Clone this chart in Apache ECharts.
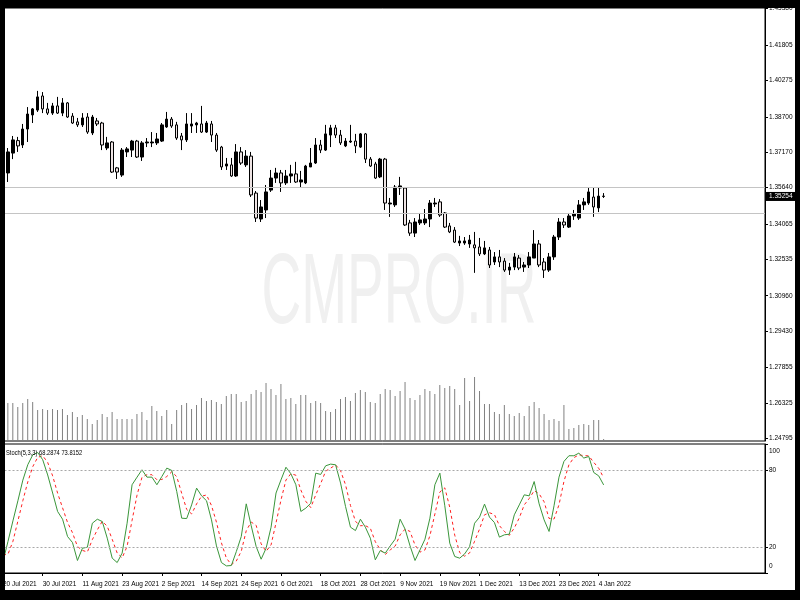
<!DOCTYPE html>
<html><head><meta charset="utf-8">
<script src="https://cdn.jsdelivr.net/npm/echarts@6/dist/echarts.min.js"></script>
<style>html,body{margin:0;padding:0;background:#000;}#c{width:800px;height:600px;}</style>
</head><body><div id="c"></div>
<script>
// ---- trading days (daily bars, weekends skipped) ----
const tradingDays = [
  ['Jul 2021', [20,21,22,23,26,27,28,29,30]],
  ['Aug 2021', [2,3,4,5,6,9,10,11,12,13,16,17,18,19,20,23,24,25,26,27,30,31]],
  ['Sep 2021', [1,2,3,6,7,8,9,10,13,14,15,16,17,20,21,22,23,24,27,28,29,30]],
  ['Oct 2021', [1,4,5,6,7,8,11,12,13,14,15,18,19,20,21,22,25,26,27,28,29]],
  ['Nov 2021', [1,2,3,4,5,8,9,10,11,12,15,16,17,18,19,22,23,24,25,26,29,30]],
  ['Dec 2021', [1,2,3,6,7,8,9,10,13,14,15,16,17,20,21,22,23,24,27,28,29,30,31]],
  ['Jan 2022', [3,4,5]]
];
const dates = [];
tradingDays.forEach(([m, ds]) => ds.forEach(d => dates.push(d + ' ' + m)));
const futureSlots = 32; // empty space right of the last bar (chart shift)

const openP = [1.3620,1.3627,1.3713,1.3767,1.3748,1.3817,1.3878,1.3899,1.3960,1.3904,1.3886,1.3917,1.3886,1.3930,1.3873,1.3848,1.3835,1.3869,1.3800,1.3852,
1.3843,1.3735,1.3761,1.3649,1.3618,1.3718,1.3726,1.3765,1.3696,1.3757,1.3757,1.3757,1.3765,1.3826,1.3860,1.3835,1.3787,1.3770,1.3830,1.3835,
1.3839,1.3804,1.3839,1.3791,1.3739,1.3657,1.3662,1.3614,1.3718,1.3662,1.3700,1.3540,1.3428,1.3467,1.3553,1.3605,1.3627,1.3584,1.3614,1.3623,
1.3588,1.3584,1.3653,1.3670,1.3748,1.3726,1.3791,1.3822,1.3791,1.3744,1.3761,1.3765,1.3739,1.3796,1.3687,1.3666,1.3610,1.3687,1.3493,1.3489,
1.3562,1.3562,1.3411,1.3367,1.3411,1.3411,1.3428,1.3493,1.3502,1.3454,1.3398,1.3380,1.3324,1.3324,1.3320,1.3316,1.3307,1.3277,1.3294,1.3242,
1.3264,1.3246,1.3207,1.3220,1.3259,1.3220,1.3229,1.3259,1.3320,1.3242,1.3207,1.3264,1.3350,1.3415,1.3393,1.3441,1.3432,1.3489,1.3497,1.3523,
1.3476,1.3527];
const closeP = [1.3627,1.3718,1.3770,1.3744,1.3817,1.3882,1.3904,1.3956,1.3904,1.3886,1.3917,1.3886,1.3930,1.3869,1.3843,1.3835,1.3865,1.3804,1.3869,1.3839,
1.3748,1.3757,1.3631,1.3631,1.3726,1.3731,1.3765,1.3696,1.3757,1.3761,1.3761,1.3774,1.3835,1.3860,1.3830,1.3778,1.3770,1.3839,1.3839,1.3843,
1.3804,1.3843,1.3791,1.3726,1.3653,1.3666,1.3614,1.3718,1.3670,1.3700,1.3532,1.3432,1.3480,1.3545,1.3605,1.3627,1.3584,1.3614,1.3623,1.3588,
1.3597,1.3657,1.3670,1.3748,1.3726,1.3796,1.3822,1.3791,1.3757,1.3765,1.3765,1.3744,1.3796,1.3687,1.3657,1.3605,1.3687,1.3497,1.3497,1.3566,
1.3571,1.3402,1.3367,1.3415,1.3424,1.3428,1.3497,1.3497,1.3445,1.3393,1.3372,1.3328,1.3333,1.3333,1.3337,1.3303,1.3277,1.3303,1.3229,1.3264,
1.3242,1.3207,1.3220,1.3264,1.3216,1.3229,1.3264,1.3320,1.3229,1.3207,1.3264,1.3350,1.3415,1.3402,1.3441,1.3450,1.3489,1.3502,1.3545,1.3480,
1.3527,1.35254];
const lowP = [1.3572,1.3588,1.3687,1.3718,1.3735,1.3761,1.3843,1.3891,1.3886,1.3878,1.3878,1.3882,1.3873,1.3865,1.3839,1.3826,1.3826,1.3796,1.3791,1.3830,
1.3726,1.3726,1.3627,1.3601,1.3610,1.3696,1.3696,1.3692,1.3679,1.3739,1.3739,1.3748,1.3761,1.3822,1.3822,1.3770,1.3726,1.3761,1.3800,1.3800,
1.3800,1.3800,1.3761,1.3718,1.3640,1.3640,1.3610,1.3610,1.3662,1.3653,1.3523,1.3415,1.3415,1.3432,1.3545,1.3584,1.3545,1.3575,1.3584,1.3584,
1.3566,1.3579,1.3653,1.3666,1.3713,1.3722,1.3739,1.3778,1.3748,1.3739,1.3757,1.3713,1.3735,1.3670,1.3653,1.3601,1.3605,1.3467,1.3437,1.3480,
1.3532,1.3398,1.3355,1.3350,1.3402,1.3402,1.3393,1.3480,1.3437,1.3389,1.3367,1.3324,1.3311,1.3316,1.3303,1.3195,1.3268,1.3272,1.3216,1.3229,
1.3220,1.3199,1.3186,1.3207,1.3207,1.3199,1.3216,1.3259,1.3220,1.3173,1.3199,1.3251,1.3337,1.3389,1.3389,1.3424,1.3424,1.3467,1.3489,1.3437,
1.3458,1.3519];
const highP = [1.3670,1.3735,1.3787,1.3783,1.3839,1.3912,1.3908,1.3982,1.3977,1.3930,1.3930,1.3956,1.3951,1.3934,1.3886,1.3865,1.3886,1.3886,1.3878,1.3865,
1.3848,1.3783,1.3765,1.3653,1.3735,1.3739,1.3770,1.3770,1.3765,1.3778,1.3804,1.3800,1.3843,1.3891,1.3869,1.3848,1.3800,1.3886,1.3886,1.3848,
1.3917,1.3852,1.3852,1.3800,1.3744,1.3692,1.3692,1.3752,1.3739,1.3726,1.3718,1.3549,1.3510,1.3575,1.3640,1.3649,1.3640,1.3640,1.3662,1.3675,
1.3636,1.3662,1.3735,1.3778,1.3770,1.3835,1.3835,1.3835,1.3813,1.3778,1.3835,1.3796,1.3800,1.3800,1.3696,1.3675,1.3692,1.3692,1.3519,1.3575,
1.3610,1.3566,1.3424,1.3432,1.3454,1.3471,1.3510,1.3519,1.3514,1.3458,1.3411,1.3393,1.3355,1.3350,1.3359,1.3372,1.3346,1.3333,1.3307,1.3285,
1.3294,1.3259,1.3238,1.3281,1.3272,1.3242,1.3285,1.3380,1.3337,1.3259,1.3281,1.3359,1.3432,1.3432,1.3454,1.3467,1.3510,1.3519,1.3562,1.3562,
1.3562,1.3540];
// tick volume (thousands)
const volume = [72,76,76,68,76,84,78,62,64,62,64,62,64,52,58,48,52,44,34,42,
54,48,58,44,44,44,44,54,58,42,70,60,50,62,34,62,72,76,64,72,
86,80,82,78,74,90,94,94,78,80,94,102,98,116,104,92,114,84,86,74,
92,92,76,80,76,60,58,64,84,88,80,96,102,98,78,76,94,104,102,90,
100,118,86,82,92,104,100,94,112,106,110,104,72,126,80,128,100,74,74,58,
54,72,54,50,56,50,70,78,66,54,42,44,40,72,24,26,32,34,32,42,
42,4];
const stochK = [9,24.4,40.4,56,72,84,91.6,93.4,87.8,76,62,47.7,41.7,28.3,23.6,9.7,19.2,20,38.6,41.7,
39.9,27,11.5,8.1,15.4,38.6,68.4,74.3,80,74.3,74.3,68.4,74.8,81.3,79.5,63.2,42.5,42.2,52.8,65.8,
59.8,56,41.2,21,8.1,5.5,5.8,16.6,28.3,53.6,36.6,20.5,10.7,19.2,35.5,62,72.2,82,76.9,68.4,
47.7,50.3,54.1,77.4,76.4,83.1,84.4,83.9,69.7,51.6,35.5,32.9,41.7,35.5,27,10.2,17.4,15.4,21,26.2,
41.7,34,21,9.7,17.9,26.2,42.5,68.4,77.4,52.1,23.1,12.8,11.5,14.8,20.5,38.6,43.3,53.4,43.3,39.1,
27.8,29.6,30.1,45.1,52.8,60.6,59.8,70.9,53.6,41.2,32.2,52.1,74.3,86.5,90.9,90.9,92.9,89.1,90.3,77.9,
75.3,68.2874];
const stochD = [14,14.5,24.6,40.3,56.1,70.7,82.5,89.7,90.9,85.7,75.3,61.9,50.5,39.2,31.2,20.5,17.5,16.3,25.9,33.4,
40.1,36.2,26.1,15.5,11.7,20.7,40.8,60.4,74.2,76.2,76.2,72.3,72.5,74.8,78.5,74.7,61.7,49.3,45.8,53.6,
59.5,60.5,52.3,39.4,23.4,11.5,6.5,9.3,16.9,32.8,39.5,36.9,22.6,16.8,21.8,38.9,56.6,72.1,77,75.8,
64.3,55.5,50.7,60.6,69.3,79,81.3,83.8,79.3,68.4,52.3,40,36.7,36.7,34.7,24.2,18.2,14.3,17.9,20.9,
29.6,34,32.2,21.6,16.2,17.9,28.9,45.7,62.8,66,50.9,29.3,15.8,13,15.6,24.6,34.1,45.1,46.7,45.3,
36.7,32.2,29.2,34.9,42.7,52.8,57.7,63.8,61.4,55.2,42.3,41.8,52.9,71,83.9,89.4,91.6,91,90.8,85.8,
81.2,73.8152];
const priceTicks = ['1.24795','1.26325','1.27855','1.29430','1.30960','1.32535','1.34065','1.35640','1.37170','1.38700','1.40275','1.41805','1.43380'];
const stochTicks = [0, 20, 80, 100];
const stochLevels = [20, 80];
const hLines = [1.3565, 1.3453];

const FONT = '"Liberation Sans", Arial, sans-serif';
const FS = 6.5;
const categories = dates.concat(Array.from({length: futureSlots}, (_, k) => '~' + k));
const candles = dates.map((_, i) => [openP[i], closeP[i], lowP[i], highP[i]]);
const lastClose = closeP[closeP.length - 1];
const tickVals = priceTicks.map(Number);
const showDate = (idx, val) => idx % 8 === 0 && String(val).charAt(0) !== '~';

const chart = echarts.init(document.getElementById('c'), null, {renderer: 'canvas'});
chart.setOption({
  animation: false,
  backgroundColor: '#fff',
  textStyle: {fontFamily: FONT},
  grid: [
    {left: 0.4, right: 35, top: 8, height: 433, show: true, borderColor: '#000', borderWidth: 1},
    {left: 0.4, right: 35, top: 444, height: 129, show: true, borderColor: '#000', borderWidth: 1}
  ],
  xAxis: [
    {gridIndex: 0, type: 'category', data: categories, boundaryGap: true,
     axisLine: {show: false}, axisTick: {show: false}, axisLabel: {show: false}, splitLine: {show: false}},
    {gridIndex: 1, type: 'category', data: categories, boundaryGap: true,
     axisLine: {show: true, lineStyle: {color: '#000', width: 1}},
     axisTick: {show: true, interval: showDate, alignWithLabel: true, length: 3, lineStyle: {color: '#000'}},
     axisLabel: {interval: showDate, align: 'left', margin: 8, fontSize: FS, fontFamily: FONT, color: '#000'},
     splitLine: {show: false}}
  ],
  yAxis: [
    {gridIndex: 0, type: 'value', position: 'right', min: 1.24678, max: 1.43405,
     splitLine: {show: false},
     axisLine: {show: true, lineStyle: {color: '#000'}},
     axisTick: {show: true, length: 3, customValues: tickVals, lineStyle: {color: '#000'}},
     axisLabel: {customValues: tickVals, margin: 4, fontSize: FS, fontFamily: FONT, color: '#000',
       formatter: v => v.toFixed(5)}},
    {gridIndex: 0, type: 'value', min: 0, max: 866, show: false, splitLine: {show: false}},
    {gridIndex: 1, type: 'value', position: 'right', min: 0, max: 100,
     splitLine: {show: false},
     axisLine: {show: true, lineStyle: {color: '#000'}},
     axisTick: {show: true, length: 3, customValues: stochTicks, lineStyle: {color: '#000'}},
     axisLabel: {customValues: stochTicks, margin: 4, fontSize: FS, fontFamily: FONT, color: '#000',
       formatter: v => (v === 100 ? '{t|100}' : v === 0 ? '{b|0}' : String(v)),
       rich: {t: {padding: [15, 0, 0, 0], fontSize: FS, fontFamily: FONT, color: '#000'},
              b: {padding: [0, 0, 14, 0], fontSize: FS, fontFamily: FONT, color: '#000'}}}}
  ],
  series: [
    {type: 'bar', name: 'Volume', xAxisIndex: 0, yAxisIndex: 1, data: volume, barWidth: 1,
     itemStyle: {color: '#808080'}, z: 1, silent: true},
    {type: 'candlestick', name: 'GBPUSD', xAxisIndex: 0, yAxisIndex: 0, data: candles, barWidth: 3, clip: false,
     itemStyle: {color: '#000', color0: '#eee4e4', borderColor: '#000', borderColor0: '#000', borderWidth: 1},
     markLine: {silent: true, symbol: 'none', animation: false, precision: 5,
       lineStyle: {color: '#c4c4c4', width: 1, type: 'solid'}, label: {show: false},
       data: hLines.map(v => ({yAxis: v})).concat([{
         yAxis: lastClose, lineStyle: {color: 'rgba(255,255,255,0)', width: 0},
         label: {show: true, position: 'end', distance: 1, formatter: lastClose.toFixed(5),
           backgroundColor: '#000', color: '#fff', padding: [1, 3, 1, 3], fontSize: FS, fontFamily: FONT}
       }])}},
    {type: 'line', name: 'Stoch main', xAxisIndex: 1, yAxisIndex: 2, data: stochK, symbol: 'none',
     lineStyle: {color: '#3a963a', width: 1}, z: 3,
     markLine: {silent: true, symbol: 'none', animation: false, label: {show: false},
       lineStyle: {color: '#a8a8a8', width: 1, type: [2, 2]},
       data: stochLevels.map(v => ({yAxis: v}))}},
    {type: 'line', name: 'Stoch signal', xAxisIndex: 1, yAxisIndex: 2, data: stochD, symbol: 'none',
     lineStyle: {color: '#ff2020', width: 1, type: [3, 3]}, z: 2}
  ],
  graphic: {elements: [
    {type: 'text', x: 399, y: 295, scaleX: 0.55, z: -1, silent: true,
     style: {text: 'CMPRO.IR', font: '100px "Liberation Sans", Arial, sans-serif', fill: '#f0f0f0',
       textAlign: 'center', align: 'center', verticalAlign: 'middle', textVerticalAlign: 'middle'}},
    {type: 'text', x: 6, y: 453, scaleX: 0.72, z: 50, silent: true,
     style: {text: 'Stoch(5,3,3) ' + stochK[stochK.length - 1].toFixed(4) + ' ' + stochD[stochD.length - 1].toFixed(4),
       font: '8px ' + FONT, fill: '#000', verticalAlign: 'middle', textVerticalAlign: 'middle'}},
    {type: 'rect', shape: {x: 0, y: 0, width: 5, height: 600}, style: {fill: '#000'}, z: 100, silent: true},
    {type: 'rect', shape: {x: 0, y: 0, width: 800, height: 8}, style: {fill: '#000'}, z: 100, silent: true},
    {type: 'rect', shape: {x: 795, y: 0, width: 5, height: 600}, style: {fill: '#000'}, z: 100, silent: true},
    {type: 'rect', shape: {x: 0, y: 590, width: 800, height: 10}, style: {fill: '#000'}, z: 100, silent: true}
  ]}
});
</script></body></html>
